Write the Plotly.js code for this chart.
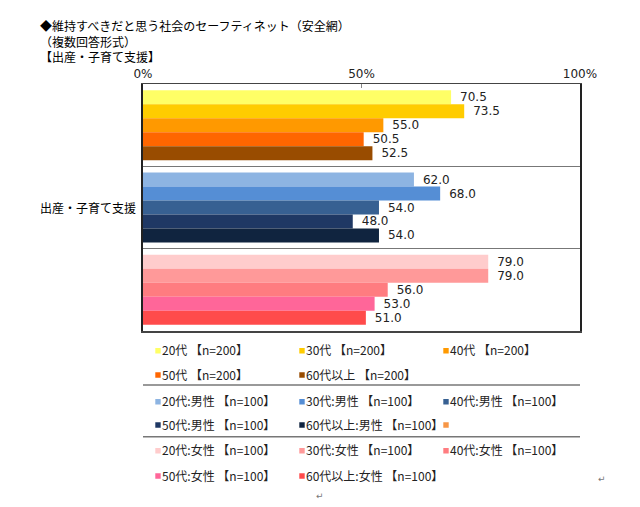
<!DOCTYPE html>
<html>
<head>
<meta charset="utf-8">
<script src="https://cdn.plot.ly/plotly-3.0.1.min.js"></script>
<style>
  body { margin: 0; background: #fff; }
  /* iconos de leyenda pequeños y pegados al texto */
  .legendpoints path { transform: translate(36px, 0px) scale(0.45); }
</style>
</head>
<body>
<div id="grafica" style="width:640px;height:507px;"></div>
<script>
// Grupos (filas del eje) y series
const grupos = ["全体", "男性", "女性"];

const nombresTotal = ["20代 【n=200】", "30代 【n=200】", "40代 【n=200】", "50代 【n=200】", "60代以上 【n=200】"];
const nombresHombre = ["20代:男性 【n=100】", "30代:男性 【n=100】", "40代:男性 【n=100】", "50代:男性 【n=100】", "60代以上:男性 【n=100】"];
const nombresMujer = ["20代:女性 【n=100】", "30代:女性 【n=100】", "40代:女性 【n=100】", "50代:女性 【n=100】", "60代以上:女性 【n=100】"];

const valoresTotal = [70.5, 73.5, 55.0, 50.5, 52.5];
const valoresHombre = [62.0, 68.0, 54.0, 48.0, 54.0];
const valoresMujer = [79.0, 79.0, 56.0, 53.0, 51.0];

const coloresTotal = ["#FFFF66", "#FFCC00", "#FF9900", "#FF6600", "#994C00"];
const coloresHombre = ["#8DB4E2", "#558ED5", "#376092", "#1F3864", "#10243F"];
const coloresMujer = ["#FFCCCC", "#FF9999", "#FF7C80", "#FF6699", "#FF4B4B"];

// pixeles -> coordenadas paper (area del grafico: x 143..580, y 84..331)
const L = 143, R = 60, T = 84, B = 176, W = 640, H = 507;
const pw = W - L - R, ph = H - T - B;
const px = v => (v - L) / pw;
const py = v => (H - B - v) / ph;

const trazas = [];
function agregarGrupo(grupo, nombres, valores, colores, leyendas) {
    nombres.forEach((n, i) => {
        trazas.push({
            type: 'bar',
            orientation: 'h',
            name: n,
            x: [valores[i]],
            y: [grupo],
            offsetgroup: String(i),
            marker: { color: colores[i], line: { width: 0 } },
            texttemplate: '\u2002%{x:.1f}',
            textposition: 'outside',
            constraintext: 'none',
            cliponaxis: false,
            textfont: { family: 'DejaVu Sans', size: 12, color: '#222' },
            hoverinfo: 'skip',
            legend: i < 3 ? leyendas[0] : leyendas[1],
            // el ultimo de cada fila necesita mas sitio para el texto
            legendwidth: (i === 2 || i === 4) ? 150 : 99
        });
    });
}
agregarGrupo(grupos[0], nombresTotal, valoresTotal, coloresTotal, ['legend', 'legend2']);
agregarGrupo(grupos[1], nombresHombre, valoresHombre, coloresHombre, ['legend3', 'legend4']);
// entrada suelta sin texto que aparece en la leyenda original
trazas[trazas.length - 1].legendwidth = 99;
trazas.push({
    type: 'bar', orientation: 'h', name: ' ',
    x: [null], y: [grupos[1]], offsetgroup: '0',
    marker: { color: '#F79646' }, texttemplate: '', hoverinfo: 'skip',
    legend: 'legend4', legendwidth: 40
});
agregarGrupo(grupos[2], nombresMujer, valoresMujer, coloresMujer, ['legend5', 'legend6']);

function leyenda(xpx, ypx) {
    return {
        orientation: 'h',
        xref: 'paper', yref: 'paper',
        x: px(xpx), y: py(ypx),
        xanchor: 'left', yanchor: 'middle',
        traceorder: 'normal',
        bgcolor: 'rgba(0,0,0,0)',
        font: { family: 'Noto Sans CJK JP', size: 12, color: '#222' }
    };
}

const layout = {
    width: W, height: H,
    margin: { l: L, r: R, t: T, b: B, autoexpand: false },
    paper_bgcolor: '#fff',
    plot_bgcolor: '#fff',
    barmode: 'group',
    bargap: 0.15,
    bargroupgap: 0,
    showlegend: true,
    xaxis: {
        side: 'top',
        range: [0, 100],
        tickvals: [0, 50, 100],
        ticktext: ['0%', '50%', '100%'],
        ticks: 'inside', ticklen: 4, tickcolor: '#888',
        showgrid: false, zeroline: false,
        showline: true, mirror: true, linecolor: '#444', linewidth: 1.5,
        tickfont: { family: 'DejaVu Sans', size: 12, color: '#222' },
        fixedrange: true
    },
    yaxis: {
        type: 'category',
        categoryorder: 'array', categoryarray: grupos,
        autorange: 'reversed',
        showticklabels: false, ticks: '',
        tickson: 'boundaries',
        showgrid: true, gridcolor: '#777', gridwidth: 1,
        showline: true, mirror: true, linecolor: '#222', linewidth: 2,
        zeroline: false, fixedrange: true
    },
    legend: leyenda(122, 350.7),
    legend2: leyenda(122, 375),
    legend3: leyenda(122, 401.7),
    legend4: leyenda(122, 425),
    legend5: leyenda(122, 450.7),
    legend6: leyenda(122, 476),
    shapes: [
        { type: 'line', xref: 'paper', yref: 'paper', x0: 0, x1: 1, y0: py(385), y1: py(385), line: { color: '#777', width: 1.5 } },
        { type: 'line', xref: 'paper', yref: 'paper', x0: 0, x1: 1, y0: py(436.7), y1: py(436.7), line: { color: '#777', width: 1.5 } }
    ],
    annotations: [
        {
            text: '◆維持すべきだと思う社会のセーフティネット（安全網）<br>（複数回答形式）<br>【出産・子育て支援】',
            xref: 'paper', yref: 'paper', x: px(38), y: py(41),
            xanchor: 'left', yanchor: 'middle', align: 'left', showarrow: false,
            font: { family: 'Noto Sans CJK JP', size: 12, color: '#000' }
        },
        {
            text: '出産・子育て支援', xref: 'paper', yref: 'y', x: px(138), y: grupos[1],
            xanchor: 'right', yanchor: 'middle', showarrow: false,
            font: { family: 'Noto Sans CJK JP', size: 12, color: '#000' }
        },
        { text: '↵', xref: 'paper', yref: 'paper', x: px(608), y: py(486), showarrow: false, font: { family: 'DejaVu Sans', size: 9, color: '#777' } },
        { text: '↵', xref: 'paper', yref: 'paper', x: px(320), y: py(503), showarrow: false, font: { family: 'DejaVu Sans', size: 9, color: '#777' } }
    ]
};

Plotly.newPlot('grafica', trazas, layout, { displayModeBar: false, staticPlot: true });
</script>
</body>
</html>
